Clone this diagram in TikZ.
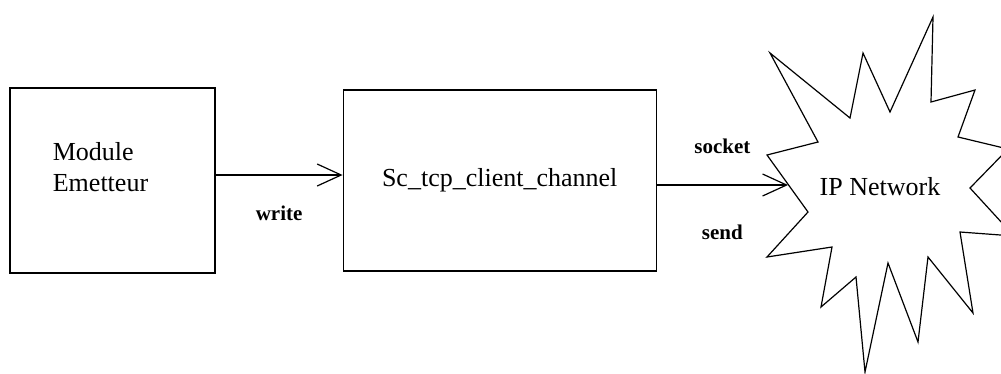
\documentclass[tikz,border=0pt]{standalone}
\usepackage{fontspec}
\setmainfont{Liberation Serif}
\usepackage{tikz}
\usetikzlibrary{arrows.meta, positioning}

\begin{document}
\begin{tikzpicture}[x=1pt, y=-1pt, line width=1.2pt,
  box/.style={rectangle, draw, align=left, font=\fontsize{26}{31}\selectfont},
  lbl/.style={font=\bfseries\fontsize{21}{25}\selectfont},
  arr/.style={-{Straight Barb[length=24pt,width=22pt]}}
]
  \useasboundingbox (0,0) rectangle (1001,373);
  \node[box, minimum width=205pt, minimum height=185pt] (emetteur) at (112.5,180.5) {};
  \node[align=left, font=\fontsize{26}{31}\selectfont, xshift=-12pt, yshift=13pt] (emtext) at (emetteur.center) {Module\\Emetteur};
  \node[box, minimum width=313pt, minimum height=181pt, right=127pt of emetteur] (channel) {Sc\_tcp\_client\_channel};
  % IP network burst
  \draw (767,155) -- (818,142) -- (770,53) -- (850,118) -- (863,53) -- (890,112)
    -- (933,17) -- (931,102) -- (975,90) -- (958,137) -- (1008,149) -- (970,188)
    -- (1014,236) -- (960,232) -- (973,313) -- (928,257) -- (918,342) -- (888,263)
    -- (865,372) -- (856,277) -- (821,307) -- (832,247) -- (767,257) -- (808,212) -- cycle;
  \node[font=\fontsize{26}{31}\selectfont] (net) at (880,187) {IP Network};
  \coordinate (nettip) at (788,185);
  \draw[arr] ([yshift=5.5pt]emetteur.east) -- ([yshift=5.5pt]emetteur.east -| channel.west)
    node[lbl, midway, below=27pt] (write) {write};
  \draw[arr] (channel.east |- nettip) -- (nettip)
    node[lbl, midway, above=27pt] (socket) {socket}
    node[lbl, midway, below=36pt] (send) {send};
\end{tikzpicture}
\end{document}
